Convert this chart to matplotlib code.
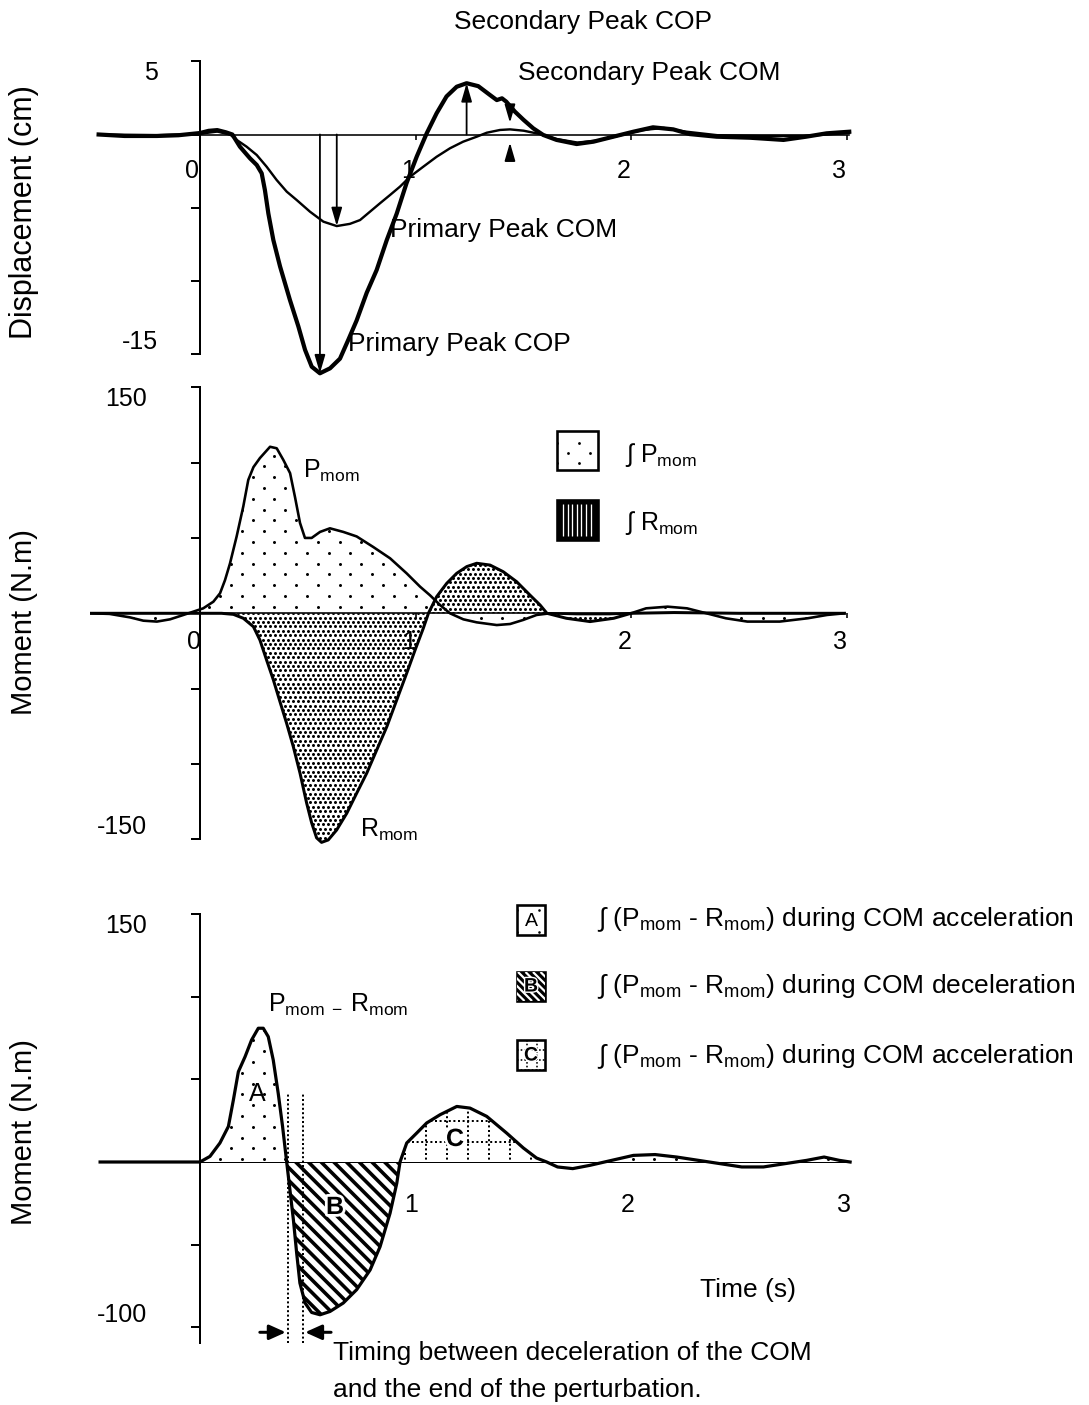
import numpy as np
import matplotlib
matplotlib.use("Agg")
import matplotlib.pyplot as plt
from matplotlib.path import Path
from matplotlib.transforms import Affine2D
from matplotlib.collections import LineCollection
from matplotlib.patches import Rectangle
import matplotlib.patheffects as pe

# ---------------- data ----------------
# Displacement of the centre of pressure (COP) and centre of mass (COM), cm
cop_t = [-0.47, -0.35, -0.20, -0.10, 0.00, 0.04, 0.08, 0.12, 0.15, 0.185,
         0.232, 0.263, 0.286, 0.301, 0.317, 0.340, 0.371, 0.417, 0.456, 0.487,
         0.518, 0.556, 0.603, 0.649, 0.688, 0.726, 0.773, 0.819, 0.866, 0.912,
         0.958, 1.005, 1.051, 1.097, 1.143, 1.190, 1.236, 1.290, 1.344, 1.376,
         1.400, 1.420, 1.460, 1.500, 1.545, 1.591, 1.653, 1.746, 1.824, 1.916,
         2.009, 2.100, 2.194, 2.270, 2.395, 2.550, 2.705, 2.810, 2.905, 3.010]
cop_v = [0.0, -0.1, -0.1, -0.05, 0.1, 0.25, 0.3, 0.15, 0.0, -0.83,
         -1.63, -2.08, -2.65, -3.8, -5.4, -7.2, -9.0, -11.3, -13.1, -14.7,
         -15.85, -16.3, -15.96, -15.3, -14.0, -12.7, -10.8, -9.25, -7.2, -5.4,
         -3.3, -1.5, 0.08, 1.45, 2.6, 3.26, 3.5, 3.3, 2.7, 2.35,
         2.47, 2.24, 1.56, 1.0, 0.42, -0.03, -0.37, -0.65, -0.49, -0.15,
         0.19, 0.49, 0.35, 0.03, -0.15, -0.22, -0.37, -0.15, 0.08, 0.19]

com_t = [-0.47, -0.20, 0.00, 0.08, 0.14, 0.17, 0.216, 0.263, 0.309, 0.355,
         0.402, 0.448, 0.510, 0.572, 0.634, 0.695, 0.742, 0.788, 0.834, 0.881,
         0.927, 0.974, 1.035, 1.097, 1.159, 1.220, 1.283, 1.329, 1.391, 1.437,
         1.500, 1.576, 1.650, 1.750, 1.850, 1.950, 2.050, 2.150, 2.250, 2.400,
         2.600, 2.800, 3.010]
com_v = [0.0, -0.05, 0.05, 0.2, 0.0, -0.37, -0.83, -1.4, -2.2, -3.1,
         -3.9, -4.47, -5.27, -5.95, -6.25, -6.1, -5.84, -5.27, -4.7, -4.13,
         -3.56, -2.88, -2.2, -1.52, -0.94, -0.49, -0.15, 0.12, 0.31, 0.35,
         0.26, 0.03, -0.3, -0.55, -0.4, -0.05, 0.3, 0.45, 0.2, -0.05,
         -0.1, -0.1, 0.1]

# Perturbation moment (P_mom) and restoring moment (R_mom), N.m
p_t = [-0.51, -0.42, -0.325, -0.263, -0.20, -0.139, -0.077, -0.031, 0.015, 0.062,
       0.093, 0.116, 0.139, 0.170, 0.201, 0.224, 0.248, 0.278, 0.325, 0.356,
       0.387, 0.418, 0.441, 0.464, 0.487, 0.518, 0.557, 0.603, 0.665, 0.727,
       0.804, 0.882, 0.959, 1.021, 1.067, 1.114, 1.160, 1.222, 1.284, 1.377,
       1.439, 1.500, 1.562, 1.624, 1.750, 1.900, 2.000, 2.070, 2.170, 2.260,
       2.350, 2.440, 2.540, 2.690, 2.820, 2.910, 2.990]
p_v = [0, -0.4, -2.7, -4.9, -5.5, -4.0, -1.1, 1.1, 3.3, 7.7,
       13.3, 22, 33, 51, 71, 88.5, 97, 103, 110.5, 109.5,
       101.7, 93, 77, 60, 50, 50, 54, 56.4, 54, 51,
       44, 36.5, 26.5, 17.7, 12, 5.5, 0, -4, -6, -7.8,
       -7.1, -4.4, -1.1, 0, -0.5, -0.5, 0, 3.3, 4.4, 3.3,
       0, -3.3, -5.5, -5.5, -3.3, -1.1, 0]

r_t = [-0.51, -0.20, 0.00, 0.10, 0.155, 0.201, 0.248, 0.278, 0.309, 0.340,
       0.371, 0.402, 0.433, 0.464, 0.495, 0.518, 0.541, 0.564, 0.595, 0.634,
       0.681, 0.727, 0.774, 0.820, 0.867, 0.913, 0.959, 0.998, 1.036, 1.060,
       1.098, 1.145, 1.191, 1.238, 1.284, 1.346, 1.407, 1.469, 1.531, 1.578,
       1.610, 1.700, 1.810, 1.920, 2.000, 2.200, 2.500, 2.800, 2.990]
r_v = [0, 0, 0, 0, -0.7, -3.3, -8.9, -17.7, -31, -44,
       -58.6, -73, -88.5, -106, -126, -139, -149, -152, -150.4, -143.8,
       -132.7, -119.4, -106, -90.7, -75.2, -57.5, -39.8, -24.4, -10, 0,
       11, 19.9, 26.5, 31, 33.2, 32, 27.6, 21, 12.1, 5.5,
       0, -3.3, -5.5, -3.3, 0, 0.5, 0, 0, 0]

# Net moment P_mom - R_mom, N.m
d_t = [-0.461, -0.20, 0.00, 0.046, 0.092, 0.131, 0.154, 0.177, 0.208, 0.238,
       0.269, 0.292, 0.315, 0.338, 0.361, 0.381, 0.400, 0.415, 0.431, 0.446,
       0.461, 0.485, 0.515, 0.554, 0.600, 0.661, 0.723, 0.785, 0.831, 0.877,
       0.908, 0.923, 0.954, 1.000, 1.046, 1.108, 1.185, 1.246, 1.323, 1.415,
       1.492, 1.553, 1.600, 1.650, 1.720, 1.800, 1.900, 2.000, 2.100, 2.200,
       2.300, 2.400, 2.500, 2.600, 2.700, 2.800, 2.880, 2.950, 3.000]
d_v = [0, 0, 0, 3.4, 11.5, 21.5, 37.5, 54.6, 63.7, 73.8,
       80.9, 80.9, 75.8, 61.7, 41.5, 21.5, 0, -16.9, -35, -55,
       -73.2, -85.3, -91, -92.4, -90.4, -85.3, -77.2, -65.3, -51.2, -31,
       -12.9, 0, 11.5, 17.5, 23.6, 28.6, 33.6, 32.6, 27.6, 17.5,
       8.5, 2.4, 0, -3, -4, -2, 1, 4, 4.5, 3,
       1, -1, -3, -3, -1, 1, 3, 1, 0]

# COM acceleration / deceleration phases (s): A, B, C, remainder
phase_edges = [0.0, 0.400, 0.923, 1.600, 3.000]
# deceleration onset of the COM and end of the perturbation (s)
event_t = [0.406, 0.475]
# window (s) in which the secondary peaks are searched
secondary_window = (1.0, 1.8)

x_ticks = [0, 1, 2, 3]
disp_ticks = [5, 0, -5, -10, -15]
mom_ticks = [150, 100, 50, 0, -50, -100, -150]
net_ticks = [150, 100, 50, 0, -50, -100]

# ---------------- figure ----------------
W, H, DPI = 1089, 1405, 100
FS = 19
plt.rcParams.update({
    "font.family": ["Liberation Sans", "DejaVu Sans"],
    "mathtext.fontset": "custom",
    "mathtext.rm": "Liberation Sans",
    "mathtext.it": "Liberation Sans:italic",
    "mathtext.bf": "Liberation Sans:bold",
    "font.size": FS,
})

fig = plt.figure(figsize=(W / DPI, H / DPI), dpi=DPI)
PIX = Affine2D().scale(1, -1).translate(0, H)   # pixel grid (y down) -> display


def pt(px):
    return px * 72.0 / DPI


def make_panel(box, origin, scale):
    left, right, top, bottom = box
    x0, y0 = origin
    sx, sy = scale
    ax = fig.add_axes([left / W, 1 - bottom / H, (right - left) / W, (bottom - top) / H])
    ax.set_xlim((left - x0) / sx, (right - x0) / sx)
    ax.set_ylim((y0 - bottom) / sy, (y0 - top) / sy)
    ax.patch.set_visible(False)
    for s in ("top", "right"):
        ax.spines[s].set_visible(False)
    ax.spines["left"].set_position(("data", 0))
    ax.spines["bottom"].set_position(("data", 0))
    ax.spines["left"].set_linewidth(pt(2))
    ax.spines["bottom"].set_linewidth(pt(1.6))
    return ax


def shift_labels(labels, dx=0.0, dy=0.0):
    for lab in labels:
        lab.set_transform(lab.get_transform() + Affine2D().translate(dx, dy))


def clip_to(artist, coll):
    path = Path.make_compound_path(*coll.get_paths())
    artist.set_clip_path(path, coll.get_transform())


def dot_lattice(ax, bounds, dx, dy, ms, trans=PIX, zorder=1):
    x0, x1, y0, y1 = bounds
    xs, ys = [], []
    for i, y in enumerate(np.arange(y0, y1, dy)):
        row = np.arange(x0 + (dx / 2 if i % 2 else 0), x1, dx)
        xs.append(row)
        ys.append(np.full(row.size, y))
    ln, = ax.plot(np.concatenate(xs), np.concatenate(ys), ls="none", marker="o",
                  ms=ms, mfc="k", mec="none", transform=trans, zorder=zorder)
    return ln


def diag_lines(ax, bounds, step, lw, color="k", trans=PIX, zorder=1):
    x0, x1, y0, y1 = bounds
    h = y1 - y0
    segs = [[(x, y0), (x + h, y1)] for x in np.arange(x0 - h, x1, step)]
    lc = LineCollection(segs, colors=color, linewidths=lw, transform=trans,
                        zorder=zorder, capstyle="butt")
    ax.add_collection(lc, autolim=False)
    return lc


def dotted_grid(ax, bounds, step, lw, trans=PIX, zorder=1):
    x0, x1, y0, y1 = bounds
    segs = [[(x, y0), (x, y1)] for x in np.arange(x0, x1, step)]
    segs += [[(x0, y), (x1, y)] for y in np.arange(y1, y0, -step)]
    lc = LineCollection(segs, colors="k", linewidths=lw, linestyles=[(0, (1, 1.3))],
                        transform=trans, zorder=zorder)
    ax.add_collection(lc, autolim=False)
    return lc


SPARSE = dict(dx=21.7, dy=10.8, ms=pt(3.0))
DENSE = dict(dx=5.0, dy=4.4, ms=pt(3.0))
YLABEL_FS = 21

# ---------------- panel 1: displacement ----------------
ax1 = make_panel((90, 870, 40, 390), (200, 134.5), (215.7, 14.65))
ax1.spines["left"].set_bounds(-15, 5)
ax1.spines["bottom"].set_bounds(0, 3.01)
ax1.set_yticks(disp_ticks, ["5", "", "", "", "-15"])
ax1.set_xticks(x_ticks, [str(v) for v in x_ticks])
ax1.tick_params(axis="y", direction="out", length=pt(9), width=pt(2), pad=pt(33), labelsize=18)
ax1.tick_params(axis="x", direction="out", length=pt(5), width=pt(1.6), pad=pt(20), labelsize=18)
yl = ax1.get_yticklabels()
yl[0].set_va("top")
yl[-1].set_va("bottom")
shift_labels(ax1.get_xticklabels(), dx=-8)

ax1.plot(cop_t, cop_v, color="k", lw=pt(4.2), solid_joinstyle="round", zorder=3)
ax1.plot(com_t, com_v, color="k", lw=pt(2.4), solid_joinstyle="round", zorder=3)

cop_t_a, cop_v_a = np.array(cop_t), np.array(cop_v)
com_t_a, com_v_a = np.array(com_t), np.array(com_v)
i_cop_min = np.argmin(cop_v_a)
i_com_min = np.argmin(com_v_a)
win = np.where((cop_t_a > secondary_window[0]) & (cop_t_a < secondary_window[1]))[0]
i_cop_max = win[np.argmax(cop_v_a[win])]
win = np.where((com_t_a > secondary_window[0]) & (com_t_a < secondary_window[1]))[0]
i_com_max = win[np.argmax(com_v_a[win])]

arrow = dict(arrowstyle="-|>,head_length=1.1,head_width=0.32", mutation_scale=10,
             color="k", lw=pt(1.8), shrinkA=0, shrinkB=0)


def peak_arrow(ax, x, y_from, y_to):
    ax.annotate("", xy=(x, y_to), xytext=(x, y_from), arrowprops=arrow, zorder=4)


peak_arrow(ax1, cop_t_a[i_cop_min], 0, cop_v_a[i_cop_min])
peak_arrow(ax1, com_t_a[i_com_min], 0, com_v_a[i_com_min])
peak_arrow(ax1, cop_t_a[i_cop_max], 0, cop_v_a[i_cop_max])
t_sec = com_t_a[i_com_max]
cop_at_sec = np.interp(t_sec, cop_t_a, cop_v_a)
peak_arrow(ax1, t_sec, cop_at_sec, com_v_a[i_com_max] + 0.45)
peak_arrow(ax1, t_sec, com_v_a[i_com_max] - 1.9, com_v_a[i_com_max] - 0.9)

ax1.set_ylabel("Displacement (cm)", fontsize=22)
ax1.yaxis.set_label_coords(39, 212, transform=PIX)

# ---------------- panel 2: moments ----------------
ax2 = make_panel((90, 870, 380, 850), (200, 613.3), (215.5, 1.507))
ax2.spines["left"].set_bounds(-150, 150)
ax2.spines["bottom"].set_bounds(0, 2.99)
ax2.set_yticks(mom_ticks, ["150", "", "", "", "", "", "-150"])
ax2.set_xticks(x_ticks, [str(v) for v in x_ticks])
ax2.tick_params(axis="y", direction="out", length=pt(9), width=pt(2), pad=pt(44), labelsize=18)
ax2.tick_params(axis="x", direction="out", length=pt(5), width=pt(1.6), pad=pt(12), labelsize=18)
yl = ax2.get_yticklabels()
yl[0].set_va("top")
yl[-1].set_va("bottom")
shift_labels(ax2.get_xticklabels(), dx=-6)

p_fill = ax2.fill_between(p_t, p_v, 0, facecolor="none", lw=0)
r_fill = ax2.fill_between(r_t, r_v, 0, facecolor="none", lw=0)
clip_to(dot_lattice(ax2, (90, 870, 380, 850), **SPARSE), p_fill)
clip_to(dot_lattice(ax2, (90, 870, 380, 850), **DENSE), r_fill)
ax2.plot(p_t, p_v, color="k", lw=pt(2.6), solid_joinstyle="round", zorder=3)
ax2.plot(r_t, r_v, color="k", lw=pt(3.0), solid_joinstyle="round", zorder=3)

ax2.set_ylabel("Moment (N.m)", fontsize=YLABEL_FS)
ax2.yaxis.set_label_coords(38, 622, transform=PIX)

# ---------------- panel 3: net moment ----------------
ax3 = make_panel((90, 870, 900, 1350), (200, 1162), (216.7, 1.6533))
ax3.spines["left"].set_bounds(-109.5, 150)
ax3.spines["bottom"].set_bounds(0, 3.0)
ax3.spines["bottom"].set_linewidth(pt(1.0))
ax3.set_yticks(net_ticks, ["150", "", "", "", "", "-100"])
ax3.set_xticks(x_ticks[1:], [str(v) for v in x_ticks[1:]])
ax3.tick_params(axis="y", direction="out", length=pt(9), width=pt(2), pad=pt(44), labelsize=18)
ax3.tick_params(axis="x", direction="out", length=0, pad=pt(31), labelsize=18)
yl = ax3.get_yticklabels()
yl[0].set_va("top")
yl[-1].set_va("bottom")
shift_labels(ax3.get_xticklabels(), dx=-6)

d_t_a, d_v_a = np.array(d_t), np.array(d_v)
phase_fills = []
for a, b in zip(phase_edges[:-1], phase_edges[1:]):
    m = (d_t_a >= a) & (d_t_a <= b)
    phase_fills.append(ax3.fill_between(d_t_a[m], d_v_a[m], 0, facecolor="none", lw=0))
box3 = (90, 870, 900, 1350)
clip_to(dot_lattice(ax3, box3, **SPARSE), phase_fills[0])
clip_to(diag_lines(ax3, box3, 12.7, pt(3.6)), phase_fills[1])
clip_to(dotted_grid(ax3, (90, 870, 900, 1162.5), 21, pt(2.0)), phase_fills[2])
clip_to(dot_lattice(ax3, box3, **SPARSE), phase_fills[3])
ax3.plot(d_t, d_v, color="k", lw=pt(3.2), solid_joinstyle="round", zorder=3)

ax3.vlines(event_t, -109.5, 41.7, colors="k", lw=pt(2.0), linestyles=[(0, (1, 1.2))], zorder=4)
ev_arrow = dict(arrowstyle="-|>,head_length=1.0,head_width=0.45", mutation_scale=10,
                color="k", lw=pt(3.0), shrinkA=0, shrinkB=0)
ax3.annotate("", xy=(event_t[0] - 0.01, -103), xytext=(event_t[0] - 0.13, -103), arrowprops=ev_arrow)
ax3.annotate("", xy=(event_t[1] + 0.01, -103), xytext=(event_t[1] + 0.13, -103), arrowprops=ev_arrow)

ax3.set_ylabel("Moment (N.m)", fontsize=YLABEL_FS)
ax3.yaxis.set_label_coords(38, 1132, transform=PIX)

halo = [pe.withStroke(linewidth=4, foreground="white")]
ax3.text(257, 1094, "A", transform=PIX, ha="center", va="center", fontsize=18, zorder=5)
ax3.text(335, 1207, "B", transform=PIX, ha="center", va="center", fontsize=18,
         fontweight="bold", path_effects=halo, zorder=5)
ax3.text(455, 1139, "C", transform=PIX, ha="center", va="center", fontsize=18,
         fontweight="bold", path_effects=halo, zorder=5)

# ---------------- annotations, legends (pixel overlay) ----------------
ov = fig.add_axes([0, 0, 1, 1], zorder=10)
ov.set_xlim(0, W)
ov.set_ylim(H, 0)
ov.axis("off")
ov.patch.set_visible(False)

ov.text(583, 22, "Secondary Peak COP", ha="center", va="center", fontsize=FS)
ov.text(518, 73, "Secondary Peak COM", ha="left", va="center", fontsize=FS)
ov.text(390, 230, "Primary Peak COM", ha="left", va="center", fontsize=FS)
ov.text(348, 344, "Primary Peak COP", ha="left", va="center", fontsize=FS)

MOM = r"$_{\mathregular{mom}}$"
ov.text(303, 478, "P" + MOM, ha="left", va="baseline", fontsize=18)
ov.text(360, 837, "R" + MOM, ha="left", va="baseline", fontsize=18)
ov.text(268, 1012, r"P$_{\mathregular{mom\ -\ }}$R" + MOM, ha="left", va="baseline", fontsize=18)

# moment legend
r1 = Rectangle((557, 431), 41, 39, facecolor="white", edgecolor="k", lw=pt(2.6), zorder=2)
ov.add_patch(r1)
ln = dot_lattice(ov, (557, 598, 443, 470), 22, 10, pt(2.8), trans=ov.transData, zorder=3)
ln.set_clip_path(r1)
r2 = Rectangle((557, 500), 41, 40, facecolor="k", edgecolor="k", lw=pt(2.6), zorder=2)
ov.add_patch(r2)
ov.vlines(np.arange(563, 594, 4.6), 504, 536, colors="white", lw=pt(1.3), zorder=3)
ov.text(625, 455, "\u222b P" + MOM, ha="left", va="center", fontsize=18)
ov.text(625, 523, "\u222b R" + MOM, ha="left", va="center", fontsize=18)

# phase legend
phase_label = "\u222b (P" + MOM + " - R" + MOM + ") during COM "
sqA = Rectangle((517, 905), 28, 30, facecolor="white", edgecolor="k", lw=pt(2.6), zorder=2)
sqB = Rectangle((517, 972), 28, 29, facecolor="k", edgecolor="k", lw=pt(2.6), zorder=2)
sqC = Rectangle((517, 1040), 28, 30, facecolor="white", edgecolor="k", lw=pt(2.6), zorder=2)
for sq in (sqA, sqB, sqC):
    ov.add_patch(sq)
ln = dot_lattice(ov, (517, 545, 910, 935), 22, 11, pt(2.6), trans=ov.transData, zorder=3)
ln.set_clip_path(sqA)
lc = diag_lines(ov, (517, 545, 972, 1001), 7.5, pt(2.2), color="white", trans=ov.transData, zorder=3)
lc.set_clip_path(sqB)
lc = dotted_grid(ov, (517, 545, 1040, 1070), 10, pt(1.6), trans=ov.transData, zorder=3)
lc.set_clip_path(sqC)
ov.text(531, 921, "A", ha="center", va="center", fontsize=14, zorder=4)
ov.text(531, 987, "B", ha="center", va="center", fontsize=14, fontweight="bold",
        path_effects=[pe.withStroke(linewidth=2, foreground="white")], zorder=4)
ov.text(531, 1056, "C", ha="center", va="center", fontsize=14, fontweight="bold",
        path_effects=[pe.withStroke(linewidth=2, foreground="white")], zorder=4)
ov.text(597, 920, phase_label + "acceleration", ha="left", va="center", fontsize=FS)
ov.text(597, 987, phase_label + "deceleration", ha="left", va="center", fontsize=FS)
ov.text(597, 1057, phase_label + "acceleration", ha="left", va="center", fontsize=FS)

ov.text(700, 1290, "Time (s)", ha="left", va="center", fontsize=FS)
ov.text(333, 1353, "Timing between deceleration of the COM", ha="left", va="center", fontsize=FS)
ov.text(333, 1390, "and the end of the perturbation.", ha="left", va="center", fontsize=FS)

fig.savefig("out.png", dpi=DPI)
